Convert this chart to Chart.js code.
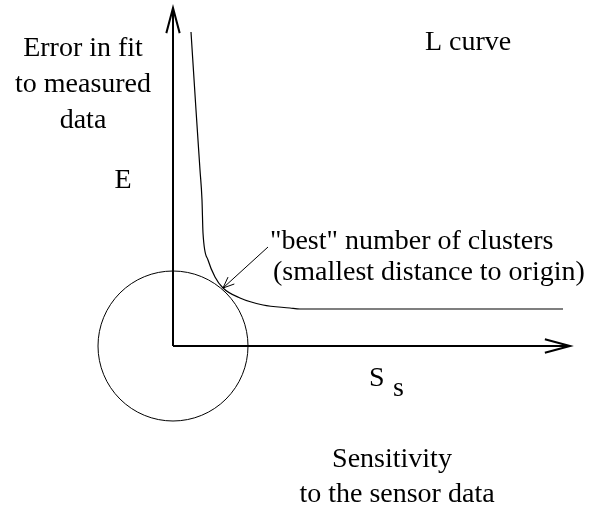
<!DOCTYPE html>
<html>
<head>
<meta charset="utf-8">
<script src="https://cdn.jsdelivr.net/npm/chart.js@4/dist/chart.umd.min.js"></script>
<style>
  html, body { margin: 0; padding: 0; background: #fff; overflow: hidden; }
  canvas { display: block; }
</style>
</head>
<body>
<canvas id="lcurve" width="600" height="508"></canvas>
<script>
// L curve: sensitivity S_s (x) vs error E (y), origin where the axes cross
const curveS = [18, 23, 27, 29, 30, 35, 42, 50, 67, 90, 117, 127, 390];
const curveE = [314, 236, 176, 146, 113, 86, 69, 58, 48, 41, 38, 37, 37];

// axis arrows and the pointer to the "best" point
const axisY = [[0, 0], [0, 338]];
const axisX = [[0, 0], [397, 0]];
const pointer = [[95, 99], [50, 58]];

// circle round the origin, touching the curve
const circle = { x: 0, y: 0, r: 75 };

// text labels [text, x, y, align]
const labels = [
  ['Error in fit', -90, 290, 'center'],
  ['to measured', -90, 254, 'center'],
  ['data', -90, 218, 'center'],
  ['E', -50, 158, 'center'],
  ['L curve', 252, 296, 'left'],
  ['"best" number of clusters', 97, 97, 'left'],
  ['(smallest distance to origin)', 100, 66, 'left'],
  ['S', 196, -40, 'left'],
  ['s', 220, -50, 'left'],
  ['Sensitivity', 219, -121, 'center'],
  ['to the sensor data', 224, -156, 'center'],
];

const toPts = arr => arr.map(p => ({ x: p[0], y: p[1] }));

const arrowPlugin = {
  id: 'arrowsAndText',
  afterDatasetsDraw(chart) {
    const { ctx, scales } = chart;
    ctx.save();
    ctx.strokeStyle = '#000';
    chart.data.datasets.forEach(ds => {
      if (!ds.arrow) return;
      const d = ds.data;
      const a = d[d.length - 2], b = d[d.length - 1];
      const x1 = scales.x.getPixelForValue(a.x), y1 = scales.y.getPixelForValue(a.y);
      const x2 = scales.x.getPixelForValue(b.x), y2 = scales.y.getPixelForValue(b.y);
      const ang = Math.atan2(y2 - y1, x2 - x1);
      const len = ds.arrow.len, spread = ds.arrow.spread;
      ctx.lineWidth = ds.borderWidth;
      ctx.beginPath();
      ctx.moveTo(x2 - len * Math.cos(ang - spread), y2 - len * Math.sin(ang - spread));
      ctx.lineTo(x2, y2);
      ctx.lineTo(x2 - len * Math.cos(ang + spread), y2 - len * Math.sin(ang + spread));
      ctx.stroke();
    });
    ctx.fillStyle = '#000';
    ctx.font = '28px "Liberation Serif", "Times New Roman", serif';
    ctx.textBaseline = 'alphabetic';
    labels.forEach(([t, x, y, al]) => {
      ctx.textAlign = al;
      ctx.fillText(t, scales.x.getPixelForValue(x), scales.y.getPixelForValue(y));
    });
    ctx.restore();
  }
};

new Chart(document.getElementById('lcurve'), {
  type: 'scatter',
  data: {
    datasets: [
      {
        label: 'L curve',
        data: curveS.map((s, i) => ({ x: s, y: curveE[i] })),
        showLine: true,
        borderColor: '#000',
        borderWidth: 1.2,
        pointRadius: 0,
        cubicInterpolationMode: 'monotone',
      },
      {
        label: 'E axis',
        data: toPts(axisY),
        showLine: true,
        borderColor: '#000',
        borderWidth: 2,
        pointRadius: 0,
        arrow: { len: 26, spread: 0.26 },
      },
      {
        label: 'S axis',
        data: toPts(axisX),
        showLine: true,
        borderColor: '#000',
        borderWidth: 2,
        pointRadius: 0,
        arrow: { len: 26, spread: 0.26 },
      },
      {
        label: 'pointer',
        data: toPts(pointer),
        showLine: true,
        borderColor: '#000',
        borderWidth: 1,
        pointRadius: 0,
        arrow: { len: 12, spread: 0.4 },
      },
      {
        type: 'bubble',
        label: 'circle',
        data: [circle],
        backgroundColor: 'rgba(0,0,0,0)',
        borderColor: '#000',
        borderWidth: 1,
        clip: false,
      },
    ],
  },
  options: {
    responsive: false,
    animation: false,
    layout: { padding: 0, autoPadding: false },
    scales: {
      x: { type: 'linear', min: -173, max: 427, display: false },
      y: { type: 'linear', min: -162, max: 346, display: false },
    },
    plugins: {
      legend: { display: false },
      tooltip: { enabled: false },
    },
    events: [],
  },
  plugins: [arrowPlugin],
});
</script>
</body>
</html>
